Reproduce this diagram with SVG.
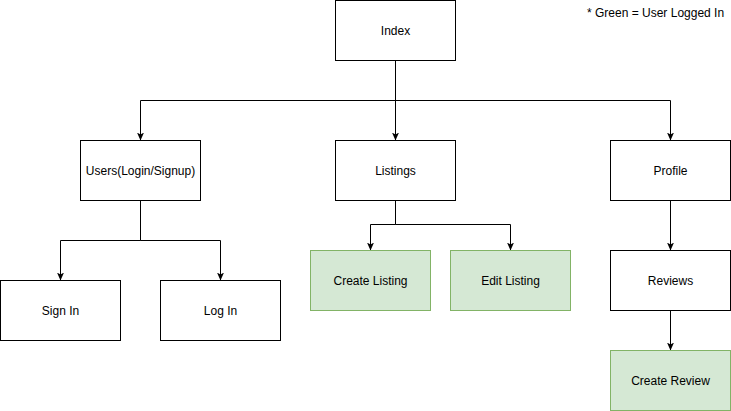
<svg xmlns="http://www.w3.org/2000/svg" width="731" height="411" viewBox="0 0 731 411">
<style>
.box{fill:#ffffff;stroke:#000000;stroke-width:1}
.green{fill:#d5e8d4;stroke:#82b366;stroke-width:1}
.lbl{font-family:"Liberation Sans",Arial,sans-serif;font-size:12px;fill:#000000;text-anchor:middle;dominant-baseline:central}
.edge{fill:none;stroke:#000000;stroke-width:1;marker-end:url(#arr)}
</style>
<defs>
<marker id="arr" markerUnits="userSpaceOnUse" viewBox="0 0 8 8" markerWidth="8" markerHeight="8" refX="8" refY="4" orient="auto">
<path d="M0,0.5 L8,4 L0,7.5 L2,4 Z" fill="#000000"/>
</marker>
</defs>
<rect width="731" height="411" fill="#ffffff"/>
<g id="connectors">
<path class="edge" d="M395.5,60.5 V100.5 H140.5 V140.5"/>
<path class="edge" d="M395.5,60.5 V140.5"/>
<path class="edge" d="M395.5,60.5 V100.5 H670.5 V140.5"/>
<path class="edge" d="M140.5,200.5 V240.5 H60.5 V280.5"/>
<path class="edge" d="M140.5,200.5 V240.5 H220.5 V280.5"/>
<path class="edge" d="M395.5,200.5 V224.5 H370.5 V250.5"/>
<path class="edge" d="M395.5,200.5 V224.5 H510.5 V250.5"/>
<path class="edge" d="M670.5,200.5 V250.5"/>
<path class="edge" d="M670.5,310.5 V350.5"/>
</g>
<g id="index"><rect class="box" x="335.5" y="0.5" width="120" height="60"/><text class="lbl" x="395.5" y="30.5">Index</text></g>
<g id="users"><rect class="box" x="80.5" y="140.5" width="120" height="60"/><text class="lbl" x="140.5" y="170.5">Users(Login/Signup)</text></g>
<g id="listings"><rect class="box" x="335.5" y="140.5" width="120" height="60"/><text class="lbl" x="395.5" y="170.5">Listings</text></g>
<g id="profile"><rect class="box" x="610.5" y="140.5" width="120" height="60"/><text class="lbl" x="670.5" y="170.5">Profile</text></g>
<g id="signin"><rect class="box" x="0.5" y="280.5" width="120" height="60"/><text class="lbl" x="60.5" y="310.5">Sign In</text></g>
<g id="login"><rect class="box" x="160.5" y="280.5" width="120" height="60"/><text class="lbl" x="220.5" y="310.5">Log In</text></g>
<g id="createlisting"><rect class="green" x="310.5" y="250.5" width="120" height="60"/><text class="lbl" x="370.5" y="280.5">Create Listing</text></g>
<g id="editlisting"><rect class="green" x="450.5" y="250.5" width="120" height="60"/><text class="lbl" x="510.5" y="280.5">Edit Listing</text></g>
<g id="reviews"><rect class="box" x="610.5" y="250.5" width="120" height="60"/><text class="lbl" x="670.5" y="280.5">Reviews</text></g>
<g id="createreview"><rect class="green" x="610.5" y="350.5" width="120" height="60"/><text class="lbl" x="670.5" y="380.5">Create Review</text></g>
<g id="note"><text x="587" y="16.5" font-family="Liberation Sans, Arial, sans-serif" font-size="12" fill="#000000">* Green = User Logged In</text></g>
</svg>
